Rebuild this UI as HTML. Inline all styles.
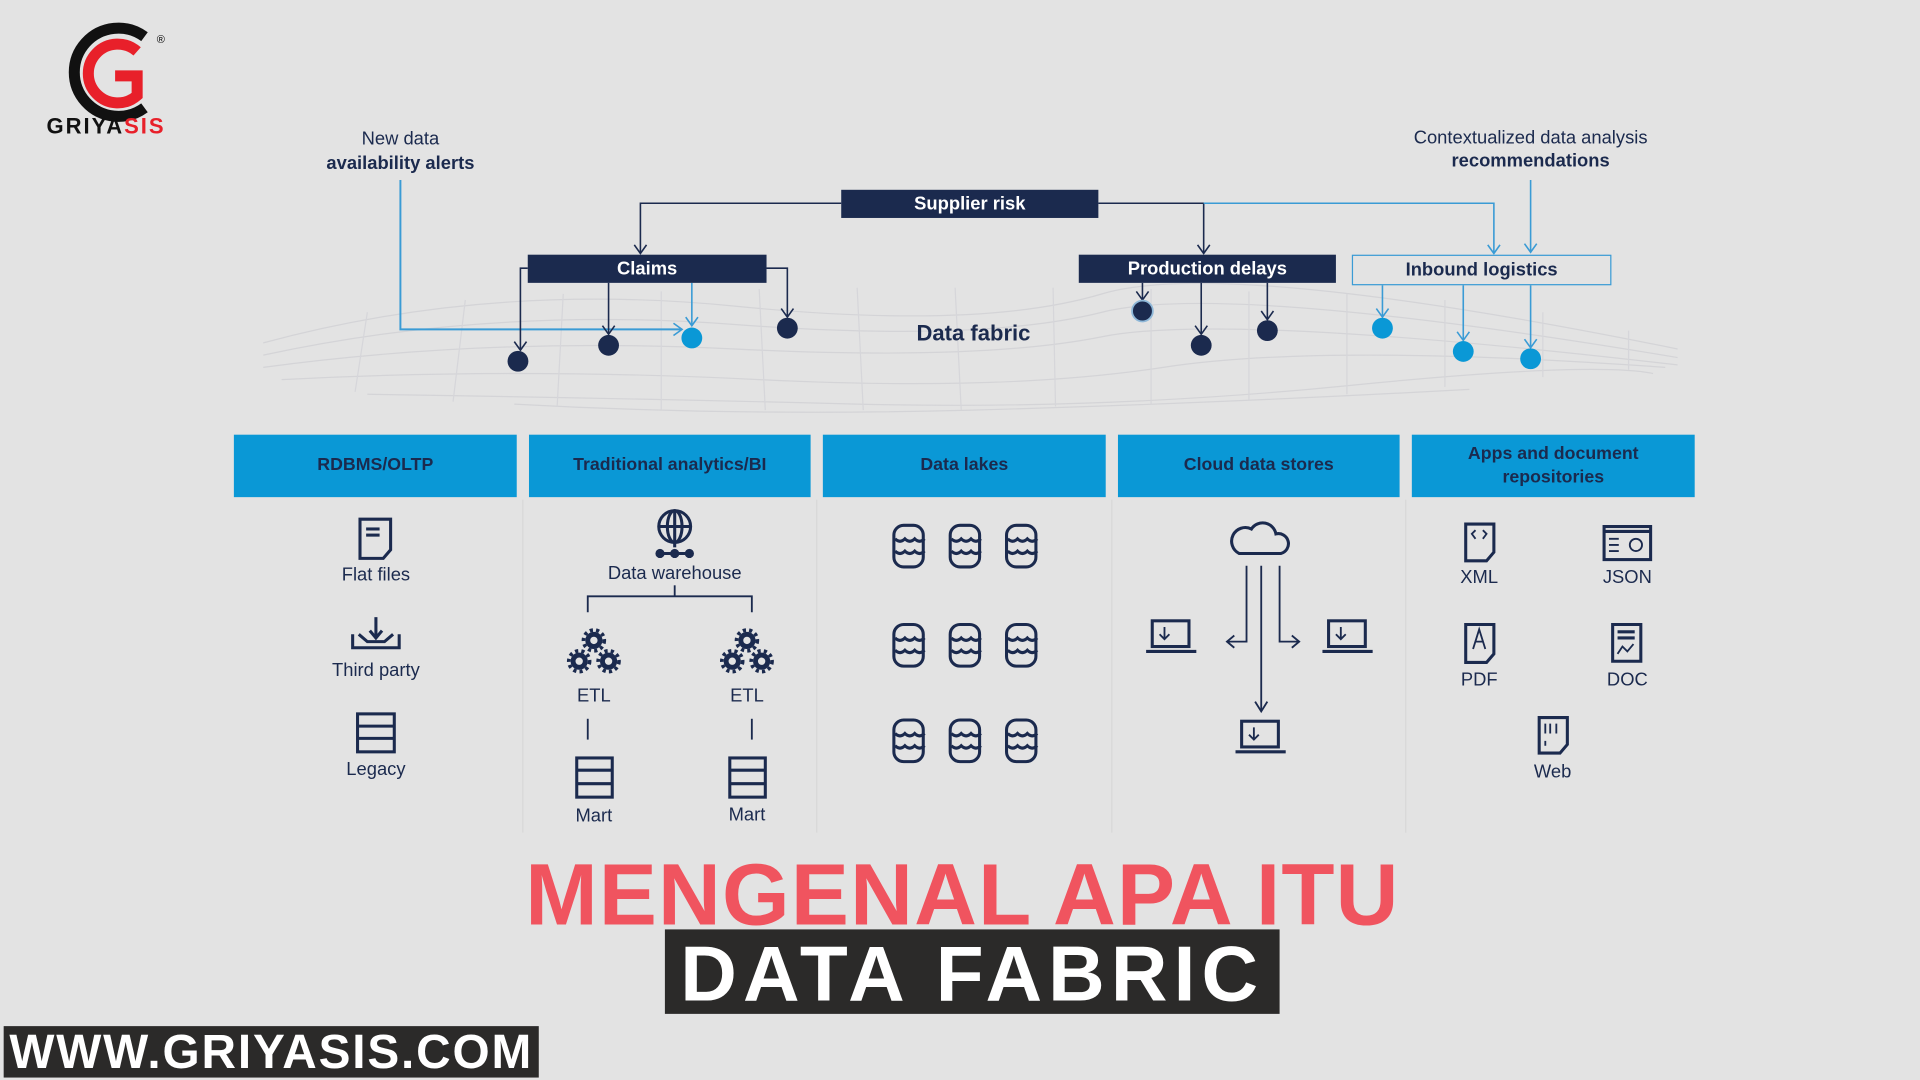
<!DOCTYPE html>
<html><head><meta charset="utf-8"><style>
html,body{margin:0;padding:0;width:1920px;height:1080px;overflow:hidden;background:#e3e3e3;}
#s{position:absolute;left:0;top:0;width:1568px;height:882px;transform:scale(1.22449);transform-origin:0 0;font-family:"Liberation Sans",sans-serif;}
.t{position:absolute;white-space:nowrap;}
.box{position:absolute;background:#1b2a4e;color:#fff;font-weight:bold;font-size:15px;text-align:center;}
.hd{position:absolute;top:355px;height:51px;width:231px;background:#0a98d6;color:#1b2a4e;font-weight:bold;font-size:14.5px;display:flex;align-items:center;justify-content:center;text-align:center;line-height:19px;}
.lb{position:absolute;font-size:15px;color:#1b2a4e;transform:translateX(-50%);white-space:nowrap;}
</style></head><body><div id="s">
<svg width="1568" height="882" style="position:absolute;left:0;top:0">
<path d="M118 30 A36 36 0 1 0 118 88" fill="none" stroke="#111" stroke-width="9"/>
<path d="M112 42 A24 24 0 1 0 112 78 L112 62 L94 62" fill="none" stroke="#e8202a" stroke-width="9"/>
<text x="128" y="35" font-size="9" font-family="Liberation Sans">®</text>
<g stroke="#d0d0d4" stroke-width="1" fill="none" opacity="0.8">
<path d="M215 280 Q400 230 600 250 T900 240 T1370 285"/>
<path d="M215 290 Q400 250 600 265 T900 255 T1370 292"/>
<path d="M215 300 Q400 275 600 285 T900 275 T1370 298"/>
<path d="M230 310 Q420 300 620 310 T950 300 T1360 300"/>
<path d="M300 322 Q500 325 700 330 T1100 315 T1350 305"/>
<path d="M420 330 Q600 340 790 335 T1200 318"/>
</g>
<g stroke="#d6d6da" stroke-width="1">
<line x1="300" y1="255" x2="290" y2="320"/><line x1="380" y1="245" x2="370" y2="328"/><line x1="460" y1="240" x2="455" y2="332"/><line x1="540" y1="238" x2="540" y2="335"/><line x1="620" y1="236" x2="625" y2="335"/><line x1="700" y1="235" x2="705" y2="335"/><line x1="780" y1="235" x2="785" y2="335"/><line x1="860" y1="235" x2="862" y2="332"/><line x1="940" y1="236" x2="940" y2="330"/><line x1="1020" y1="238" x2="1020" y2="327"/><line x1="1100" y1="240" x2="1100" y2="322"/><line x1="1180" y1="245" x2="1180" y2="316"/><line x1="1260" y1="255" x2="1260" y2="308"/><line x1="1330" y1="270" x2="1330" y2="302"/>
</g>
<g fill="none" stroke-width="1.3">
<path d="M687 166 H523 V206" stroke="#1b2a4e"/>
<path d="M897 166 H983 V206" stroke="#1b2a4e"/>
<path d="M983 166 H1220 V206" stroke="#3a9bd5"/>
<path d="M1250 147 V206" stroke="#3a9bd5"/>
<path d="M327 147 V269 H557" stroke="#3a9bd5" stroke-width="1.6"/>
<path d="M431 219 H425 V285" stroke="#1b2a4e"/>
<path d="M497 231 V272" stroke="#1b2a4e"/>
<path d="M565 231 V266" stroke="#3a9bd5"/>
<path d="M626 219 H643 V258" stroke="#1b2a4e"/>
<path d="M933 231 V244" stroke="#1b2a4e"/>
<path d="M981 231 V272" stroke="#1b2a4e"/>
<path d="M1035 231 V260" stroke="#1b2a4e"/>
<path d="M1129 233 V258" stroke="#3a9bd5"/>
<path d="M1195 233 V277" stroke="#3a9bd5"/>
<path d="M1250 233 V283" stroke="#3a9bd5"/>
</g>
<g fill="none" stroke-width="1.3">
<path d="M518 200 L523 207 L528 200" stroke="#1b2a4e"/>
<path d="M978 200 L983 207 L988 200" stroke="#1b2a4e"/>
<path d="M1215 200 L1220 207 L1225 200" stroke="#3a9bd5"/>
<path d="M1245 199 L1250 206 L1255 199" stroke="#3a9bd5"/>
<path d="M550 264 L557 269 L550 274" stroke="#3a9bd5"/>
<path d="M420 279 L425 286 L430 279" stroke="#1b2a4e"/>
<path d="M492 266 L497 273 L502 266" stroke="#1b2a4e"/>
<path d="M560 259 L565 266 L570 259" stroke="#3a9bd5"/>
<path d="M638 252 L643 259 L648 252" stroke="#1b2a4e"/>
<path d="M928 238 L933 245 L938 238" stroke="#1b2a4e"/>
<path d="M976 266 L981 273 L986 266" stroke="#1b2a4e"/>
<path d="M1030 254 L1035 261 L1040 254" stroke="#1b2a4e"/>
<path d="M1124 252 L1129 259 L1134 252" stroke="#3a9bd5"/>
<path d="M1190 271 L1195 278 L1200 271" stroke="#3a9bd5"/>
<path d="M1245 277 L1250 284 L1255 277" stroke="#3a9bd5"/>
</g>
<g fill="#1b2a4e"><circle cx="423" cy="295" r="8.5"/><circle cx="497" cy="282" r="8.5"/><circle cx="643" cy="268" r="8.5"/><circle cx="933" cy="254" r="8.5" stroke="#8fb8d8" stroke-width="1.5"/><circle cx="981" cy="282" r="8.5"/><circle cx="1035" cy="270" r="8.5"/></g>
<g fill="#0a98d6"><circle cx="565" cy="276" r="8.5"/><circle cx="1129" cy="268" r="8.5"/><circle cx="1195" cy="287" r="8.5"/><circle cx="1250" cy="293" r="8.5"/></g>
<g stroke="#d8d8d8" stroke-width="1"><line x1="427" y1="408" x2="427" y2="680"/><line x1="667" y1="408" x2="667" y2="680"/><line x1="908" y1="408" x2="908" y2="680"/><line x1="1148" y1="408" x2="1148" y2="680"/></g>
<g fill="none" stroke="#1b2a4e" stroke-width="2.5">
<path d="M294 424 H319 V449 L313 456 H294 Z"/><line x1="299" y1="432" x2="310" y2="432"/><line x1="299" y1="437" x2="310" y2="437"/>
<path d="M288 518 V529 H326 V518"/><path d="M293 518 L300 524 H314 L321 518"/><line x1="307" y1="504" x2="307" y2="520"/><path d="M302 515 L307 521 L312 515"/>
<rect x="292" y="583" width="30" height="31"/><line x1="292" y1="593" x2="322" y2="593"/><line x1="292" y1="603" x2="322" y2="603"/>
<circle cx="551" cy="430" r="13"/><ellipse cx="551" cy="430" rx="6" ry="13"/><line x1="538" y1="430" x2="564" y2="430"/><line x1="551" y1="417" x2="551" y2="447"/><line x1="540" y1="452" x2="562" y2="452"/><circle cx="551" cy="452" r="2.5" fill="#1b2a4e"/><circle cx="539" cy="452" r="2.5" fill="#1b2a4e"/><circle cx="563" cy="452" r="2.5" fill="#1b2a4e"/>
<rect x="471" y="619" width="29" height="32"/><line x1="471" y1="629" x2="500" y2="629"/><line x1="471" y1="640" x2="500" y2="640"/>
<rect x="596" y="619" width="29" height="32"/><line x1="596" y1="629" x2="625" y2="629"/><line x1="596" y1="640" x2="625" y2="640"/>
<path d="M1012 452 H1046 A8 8 0 0 0 1042 436 A11 11 0 0 0 1022 432 A9 9 0 0 0 1012 452 Z"/>
<rect x="941" y="507" width="30" height="21"/><line x1="936" y1="532" x2="977" y2="532"/>
<rect x="1085" y="507" width="30" height="21"/><line x1="1080" y1="532" x2="1121" y2="532"/>
<rect x="1014" y="589" width="30" height="21"/><line x1="1009" y1="614" x2="1050" y2="614"/>
<path d="M1197 428 H1220 V451 L1214 458 H1197 Z"/>
<rect x="1310" y="430" width="38" height="27"/><line x1="1310" y1="434" x2="1348" y2="434"/>
<path d="M1197 510 H1220 V534 L1214 541 H1197 Z"/>
<path d="M1317 510 H1340 V540 H1317 Z"/><line x1="1321" y1="516" x2="1335" y2="516"/><line x1="1321" y1="521" x2="1335" y2="521"/>
<path d="M1257 586 H1280 V608 L1274 615 H1257 Z"/>
</g>
<g fill="none" stroke="#1b2a4e" stroke-width="1.5">
<path d="M951 512 V522 M947 518 L951 522 L955 518"/><path d="M1095 512 V522 M1091 518 L1095 522 L1099 518"/><path d="M1024 594 V604 M1020 600 L1024 604 L1028 600"/>
<path d="M480 500 V487 H614 V500"/><line x1="551" y1="478" x2="551" y2="487"/><line x1="480" y1="587" x2="480" y2="604"/><line x1="614" y1="587" x2="614" y2="604"/>
<path d="M1018 462 V524 H1003"/><path d="M1008 519 L1002 524 L1008 529"/><path d="M1045 462 V524 H1060"/><path d="M1055 519 L1061 524 L1055 529"/><path d="M1030 462 V580"/><path d="M1025 573 L1030 581 L1035 573"/>
<path d="M1314 440 H1322 M1314 445 H1322 M1314 450 H1322"/><circle cx="1336" cy="445" r="5"/>
<path d="M1203 530 L1208 514 L1213 530 M1205 524 H1211"/><path d="M1205 440 L1202 436 L1205 433 M1211 440 L1214 436 L1211 433"/>
<path d="M1321 534 L1325 528 L1329 532 L1334 526"/>
<path d="M1262 591 V599 M1266 591 V599 M1271 591 V599 M1262 605 V609"/>
</g>
<g fill="none" stroke="#1b2a4e">
<g stroke-width="4"><circle cx="485" cy="523" r="5"/><circle cx="473" cy="540" r="5"/><circle cx="497" cy="540" r="5"/><circle cx="610" cy="523" r="5"/><circle cx="598" cy="540" r="5"/><circle cx="622" cy="540" r="5"/></g>
<g stroke-width="3" stroke-dasharray="2.6 2.6"><circle cx="485" cy="523" r="8.5"/><circle cx="473" cy="540" r="8.5"/><circle cx="497" cy="540" r="8.5"/><circle cx="610" cy="523" r="8.5"/><circle cx="598" cy="540" r="8.5"/><circle cx="622" cy="540" r="8.5"/></g>
</g>
<g fill="none" stroke="#1b2a4e" stroke-width="2.5">
<g id="db"><rect x="730" y="429" width="24" height="34" rx="8"/><path d="M731 440 q4 4 8 0 q4 4 8 0 q4 4 8 0 M731 450 q4 4 8 0 q4 4 8 0 q4 4 8 0"/></g>
<use href="#db" x="46"/><use href="#db" x="92"/>
<use href="#db" y="81"/><use href="#db" x="46" y="81"/><use href="#db" x="92" y="81"/>
<use href="#db" y="159"/><use href="#db" x="46" y="159"/><use href="#db" x="92" y="159"/>
</g>
</svg>
<div class="t" style="left:38px;top:93px;font-size:18px;font-weight:bold;letter-spacing:1.6px;"><span style="color:#111">GRIYA</span><span style="color:#e8202a">SIS</span></div>
<div class="t" style="left:327px;top:104px;transform:translateX(-50%);text-align:center;font-size:15px;color:#1b2a4e;line-height:20px;">New data<br><b>availability alerts</b></div>
<div class="t" style="left:1250px;top:103px;transform:translateX(-50%);text-align:center;font-size:15px;color:#1b2a4e;line-height:19px;">Contextualized data analysis<br><b>recommendations</b></div>
<div class="box" style="left:687px;top:155px;width:210px;height:23px;line-height:23px;">Supplier risk</div>
<div class="box" style="left:431px;top:208px;width:195px;height:23px;line-height:23px;">Claims</div>
<div class="box" style="left:881px;top:208px;width:210px;height:23px;line-height:23px;">Production delays</div>
<div class="box" style="left:1104px;top:208px;width:210px;height:23px;line-height:23px;background:transparent;border:1.5px solid #3a9bd5;color:#1b2a4e;">Inbound logistics</div>
<div class="t" style="left:795px;top:262px;transform:translateX(-50%);font-size:18px;font-weight:bold;color:#1b2a4e;">Data fabric</div>
<div class="hd" style="left:191px">RDBMS/OLTP</div>
<div class="hd" style="left:432px;width:230px">Traditional analytics/BI</div>
<div class="hd" style="left:672px">Data lakes</div>
<div class="hd" style="left:913px;width:230px">Cloud data stores</div>
<div class="hd" style="left:1153px">Apps and document<br>repositories</div>
<div class="lb" style="left:307px;top:461px">Flat files</div>
<div class="lb" style="left:307px;top:539px">Third party</div>
<div class="lb" style="left:307px;top:620px">Legacy</div>
<div class="lb" style="left:551px;top:460px">Data warehouse</div>
<div class="lb" style="left:485px;top:560px">ETL</div>
<div class="lb" style="left:610px;top:560px">ETL</div>
<div class="lb" style="left:485px;top:658px">Mart</div>
<div class="lb" style="left:610px;top:657px">Mart</div>
<div class="lb" style="left:1208px;top:463px">XML</div>
<div class="lb" style="left:1329px;top:463px">JSON</div>
<div class="lb" style="left:1208px;top:547px">PDF</div>
<div class="lb" style="left:1329px;top:547px">DOC</div>
<div class="lb" style="left:1268px;top:622px">Web</div>
<div class="t" style="left:400px;top:695px;width:772px;text-align:center;font-size:71px;font-weight:bold;color:#f0545f;letter-spacing:1px;line-height:74px;">MENGENAL APA ITU</div>
<div class="t" style="left:543px;top:759px;width:502px;height:69px;background:#2b2a29;color:#fff;text-align:center;font-size:64px;font-weight:bold;line-height:72px;letter-spacing:5px;">DATA FABRIC</div>
<div class="t" style="left:3px;top:838px;width:437px;height:42px;background:#2b2a29;color:#fff;text-align:center;font-size:39px;font-weight:bold;line-height:43px;letter-spacing:1.5px;">WWW.GRIYASIS.COM</div>
</div></body></html>
